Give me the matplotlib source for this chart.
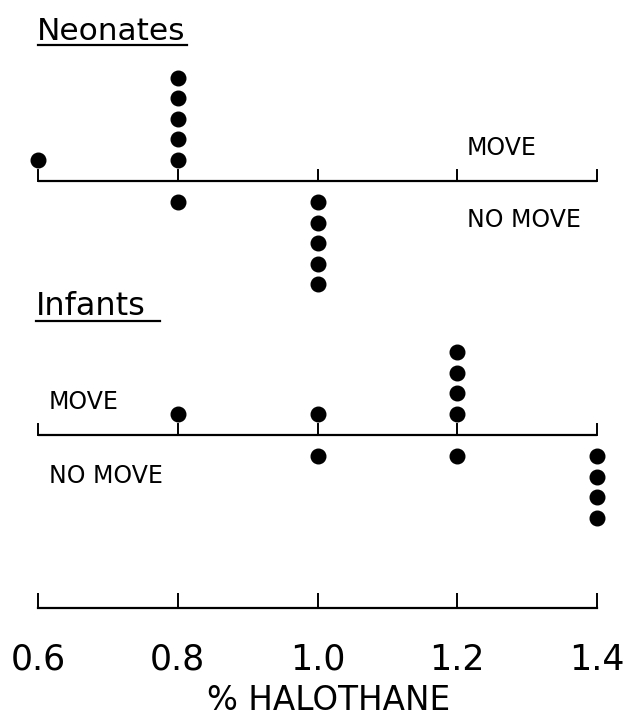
import matplotlib
matplotlib.use("Agg")
import matplotlib.pyplot as plt

# halothane concentrations (%) and number of animals at each
ticks = [0.6, 0.8, 1.0, 1.2, 1.4]
tick_labels = ["0.6", "0.8", "1.0", "1.2", "1.4"]

neo_move_x = [0.6, 0.8]
neo_move_n = [1, 5]
neo_nomove_x = [0.8, 1.0]
neo_nomove_n = [1, 5]

inf_move_x = [0.8, 1.0, 1.2]
inf_move_n = [1, 1, 4]
inf_nomove_x = [1.0, 1.2, 1.4]
inf_nomove_n = [1, 1, 4]

W, H = 637, 716
fig = plt.figure(figsize=(W / 100, H / 100), dpi=100)
ax = fig.add_axes([0, 0, 1, 1])
ax.set_facecolor("white")

# x in % halothane, y in pixel rows (top = 0)
px_per_unit = (597 - 38) / 0.8
ax.set_xlim(0.6 - 38 / px_per_unit, 1.4 + (W - 597) / px_per_unit)
ax.set_ylim(H, 0)

DOT_GAP = 20.6
FIRST = 21


def panel(y0, move_x, move_n, nomove_x, nomove_n):
    ax.plot([0.6, 1.4], [y0, y0], color="black", lw=1.6, solid_capstyle="butt")
    for t in ticks:
        ax.plot([t, t], [y0, y0 - 11], color="black", lw=1.4)
    for x, n in zip(move_x, move_n):
        ys = [y0 - FIRST - DOT_GAP * k for k in range(n)]
        ax.plot([x] * n, ys, "o", color="black", ms=10.5, zorder=3)
    for x, n in zip(nomove_x, nomove_n):
        ys = [y0 + FIRST + DOT_GAP * k for k in range(n)]
        ax.plot([x] * n, ys, "o", color="black", ms=10.5, zorder=3)


panel(181, neo_move_x, neo_move_n, neo_nomove_x, neo_nomove_n)
panel(435, inf_move_x, inf_move_n, inf_nomove_x, inf_nomove_n)

txt = dict(color="black", family="DejaVu Sans")
x0 = ax.get_xlim()[0]
def px(p):
    return x0 + p / px_per_unit

ax.text(px(37), 40, "Neonates", fontsize=22.5, va="baseline", ha="left", **txt)
ax.plot([px(38), px(187)], [45, 45], color="black", lw=1.6)
ax.text(px(467), 155, "MOVE", fontsize=17, va="baseline", ha="left", **txt)
ax.text(px(467), 227, "NO MOVE", fontsize=17, va="baseline", ha="left", **txt)

ax.text(px(36), 315, "Infants", fontsize=23, va="baseline", ha="left", **txt)
ax.plot([px(36), px(160)], [321, 321], color="black", lw=1.6)
ax.text(px(49), 409, "MOVE", fontsize=17, va="baseline", ha="left", **txt)
ax.text(px(49), 483, "NO MOVE", fontsize=17, va="baseline", ha="left", **txt)

# bottom concentration axis
for s in ["top", "right", "left"]:
    ax.spines[s].set_visible(False)
ax.spines["bottom"].set_position(("data", 608))
ax.spines["bottom"].set_bounds(0.6, 1.4)
ax.spines["bottom"].set_linewidth(1.6)
ax.set_xticks(ticks)
ax.set_xticklabels(tick_labels, fontsize=25, family="DejaVu Sans")
ax.tick_params(axis="x", direction="in", length=11, width=1.4, pad=25)
ax.set_yticks([])
ax.text(0.5 * (px(197) + px(460)), 710, "% HALOTHANE", fontsize=23.5,
        ha="center", va="baseline", **txt)

fig.savefig("out.png", dpi=100, facecolor="white")
